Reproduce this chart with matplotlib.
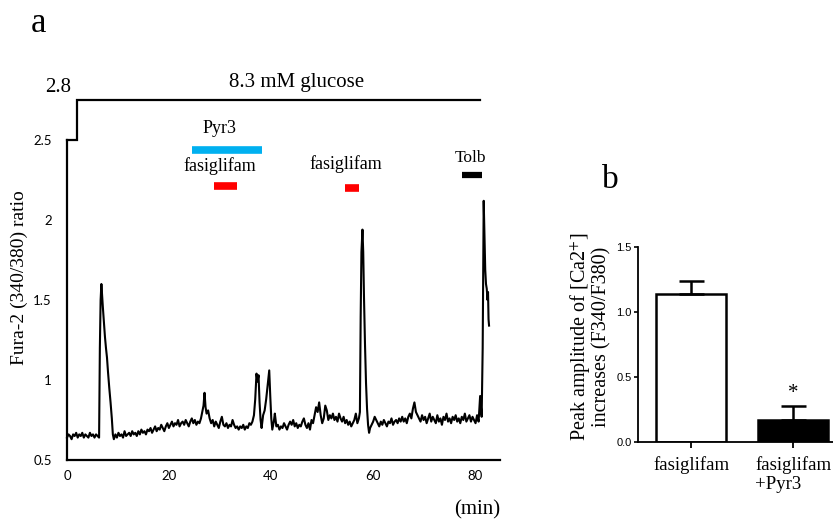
import matplotlib
matplotlib.use('Agg')
import matplotlib.pyplot as plt

plt.rcParams['mathtext.fontset'] = 'stix'

SERIF = ['Liberation Serif', 'DejaVu Serif']
SANS = ['Lato', 'DejaVu Sans']
NARROW = ['Liberation Sans Narrow', 'Liberation Sans', 'DejaVu Sans']

# ---------------- data: panel a (Fura-2 trace) ----------------
seg_a_t = [0.0, 0.3, 0.6, 0.9, 1.2, 1.5, 1.8, 2.1, 2.4, 2.7, 3.0, 3.3, 3.6, 3.9, 4.2, 4.5,
           4.8, 5.1, 5.4, 5.7, 6.0, 6.3]
seg_a_v = [.64, .66, .65, .63, .66, .65, .67, .64, .66, .65, .67, .64, .66, .65, .64, .67,
           .65, .66, .64, .66, .65, .64]

spike1_t = [6.45, 6.6, 6.75, 6.9, 7.05, 7.25, 7.45, 7.65, 7.85, 8.05, 8.3, 8.55, 8.8, 9.0, 9.2]
spike1_v = [1.20, 1.50, 1.60, 1.52, 1.45, 1.36, 1.27, 1.20, 1.14, 1.05, 0.95, 0.86, 0.76, 0.66, 0.63]

seg_c_t = [9.5, 9.8, 10.1, 10.4, 10.7, 11.0, 11.3, 11.6, 11.9, 12.2, 12.5, 12.8, 13.1, 13.4,
           13.7, 14.0, 14.3, 14.6, 14.9, 15.2, 15.5, 15.8, 16.1, 16.4, 16.7, 17.0, 17.3, 17.6,
           17.9, 18.2, 18.5, 18.8, 19.1, 19.4, 19.7, 20.0, 20.3, 20.6, 20.9, 21.2, 21.5, 21.8,
           22.1, 22.4, 22.7, 23.0, 23.3, 23.6, 23.9, 24.2, 24.5, 24.8, 25.1, 25.4, 25.7, 26.0]
seg_c_v = [.66, .64, .67, .65, .66, .64, .68, .65, .66, .67, .65, .68, .66, .67,
           .65, .68, .66, .69, .67, .68, .66, .69, .68, .70, .67, .69, .71, .68,
           .70, .69, .72, .70, .68, .71, .73, .70, .72, .74, .71, .73, .72, .75,
           .71, .73, .74, .72, .75, .73, .71, .74, .76, .73, .75, .72, .74, .73]

bump_t = [26.3, 26.6, 26.8, 27.0, 27.2, 27.4, 27.7, 28.0]
bump_v = [.76, .81, .84, .92, .83, .79, .81, .76]

seg_e_t = [28.3, 28.6, 28.9, 29.2, 29.5, 29.8, 30.1, 30.4, 30.7, 31.0, 31.3, 31.6, 31.9, 32.2,
           32.5, 32.8, 33.1, 33.4, 33.7, 34.0, 34.3, 34.6, 34.9, 35.2, 35.5, 35.8, 36.1, 36.4,
           36.7, 36.95]
seg_e_v = [.73, .75, .71, .74, .72, .70, .74, .77, .72, .71, .73, .70, .72, .71,
           .75, .72, .70, .71, .69, .71, .70, .72, .69, .71, .70, .73, .72, .74,
           .78, .88]

doublet_t = [37.2, 37.4, 37.6, 37.8, 38.0, 38.2, 38.5, 38.8, 39.1, 39.4, 39.7, 39.9, 40.1,
             40.3, 40.6, 40.8, 41.1]
doublet_v = [1.04, 0.99, 1.03, 0.86, 0.75, 0.70, 0.78, 0.81, 0.88, 0.97, 1.06, 0.90, 0.76,
             0.69, 0.74, 0.79, 0.71]

seg_g_t = [41.4, 41.7, 42.0, 42.3, 42.6, 42.9, 43.2, 43.5, 43.8, 44.1, 44.4, 44.7, 45.0, 45.3,
           45.6, 45.9, 46.2, 46.5, 46.8, 47.1, 47.4, 47.7, 48.0, 48.3, 48.6, 48.9, 49.2, 49.5,
           49.8, 50.1, 50.4, 50.7, 51.0, 51.3, 51.6, 51.9, 52.2, 52.5, 52.8, 53.1, 53.4, 53.7,
           54.0, 54.3, 54.6, 54.9, 55.2, 55.5, 55.8, 56.1, 56.4, 56.7, 57.0, 57.3]
seg_g_v = [.72, .69, .71, .70, .73, .71, .69, .72, .74, .72, .75, .71, .73, .70,
           .72, .71, .74, .76, .72, .70, .73, .69, .75, .73, .78, .83, .80, .86,
           .78, .73, .76, .84, .81, .75, .78, .76, .79, .75, .77, .74, .79, .76,
           .74, .77, .73, .75, .72, .74, .71, .73, .75, .79, .73, .76]

spike2_t = [57.5, 57.65, 57.8, 58.0, 58.15, 58.3, 58.5, 58.7, 58.9, 59.1, 59.3, 59.5]
spike2_v = [0.80, 1.40, 1.80, 1.94, 1.80, 1.52, 1.22, 0.98, 0.82, 0.72, 0.67, 0.70]

seg_i_t = [59.8, 60.1, 60.4, 60.7, 61.0, 61.3, 61.6, 61.9, 62.2, 62.5, 62.8, 63.1, 63.4, 63.7,
           64.0, 64.3, 64.6, 64.9, 65.2, 65.5, 65.8, 66.1, 66.4, 66.7, 67.0, 67.3, 67.6, 67.9,
           68.2, 68.5, 68.8, 69.1, 69.4, 69.7, 70.0, 70.3, 70.6, 70.9, 71.2, 71.5, 71.8, 72.1,
           72.4, 72.7, 73.0, 73.3, 73.6, 73.9, 74.2, 74.5, 74.8, 75.1, 75.4, 75.7, 76.0, 76.3,
           76.6, 76.9, 77.2, 77.5, 77.8, 78.1, 78.4, 78.7, 79.0, 79.3, 79.6, 79.9, 80.2, 80.5,
           80.8, 81.1, 81.4]
seg_i_v = [.72, .74, .77, .75, .73, .71, .74, .72, .75, .73,
           .71, .74, .73, .76, .72, .74, .75, .73, .76, .74,
           .77, .74, .76, .73, .77, .79, .76, .82, .86, .80,
           .78, .76, .74, .78, .75, .77, .73, .76, .79, .74,
           .77, .75, .73, .78, .74, .76, .72, .77, .75, .79,
           .74, .76, .73, .77, .75, .78, .74, .76, .73, .77,
           .75, .79, .74, .76, .78, .74, .77, .75, .73, .78,
           .74, .90, .77]

tolb_t = [81.6, 81.8, 81.95, 82.1, 82.25, 82.4, 82.55, 82.65, 82.75, 82.85]
tolb_v = [1.20, 2.12, 1.90, 1.69, 1.60, 1.57, 1.50, 1.55, 1.38, 1.34]

trace_t = (seg_a_t + spike1_t + seg_c_t + bump_t + seg_e_t + doublet_t + seg_g_t
           + spike2_t + seg_i_t + tolb_t)
trace_v = (seg_a_v + spike1_v + seg_c_v + bump_v + seg_e_v + doublet_v + seg_g_v
           + spike2_v + seg_i_v + tolb_v)

glucose_t = [0, 2, 2, 81]
glucose_v = [2.5, 2.5, 2.75, 2.75]

# treatment bars: (start, end, level)
pyr3 = (24.5, 38.2, 2.44)
fasi1 = (28.8, 33.3, 2.21)
fasi2 = (54.5, 57.3, 2.20)
tolb = (77.5, 81.4, 2.28)

yticks_a = [0.5, 1, 1.5, 2, 2.5]
yticklabels_a = ['0.5', '1', '1.5', '2', '2.5']
xticks_a = [0, 20, 40, 60, 80]

# ---------------- data: panel b ----------------
groups = ['fasiglifam', 'fasiglifam\n+Pyr3']
means = [1.14, 0.17]
sems = [0.10, 0.11]
yticks_b = [0.0, 0.5, 1.0, 1.5]
yticklabels_b = ['0.0', '0.5', '1.0', '1.5']

# ---------------- figure ----------------
W, H = 833, 520
fig = plt.figure(figsize=(W / 100, H / 100), dpi=100)


def box(l, t, r, b):
    return [l / W, 1 - b / H, (r - l) / W, (b - t) / H]


ax = fig.add_axes(box(67, 76, 500, 460))
ax.set_xlim(0, 85)
ax.set_ylim(0.5, 2.9)
for s in ['top', 'right']:
    ax.spines[s].set_visible(False)
for s in ['left', 'bottom']:
    ax.spines[s].set_linewidth(1.6)
    ax.spines[s].set_color('black')
ax.spines['left'].set_bounds(0.5, 2.5)
ax.set_yticks(yticks_a)
ax.set_yticklabels(yticklabels_a, family=SANS, fontsize=9.5)
ax.set_xticks(xticks_a)
ax.set_xticklabels([str(x) for x in xticks_a], family=SANS, fontsize=9.5)
ax.tick_params(axis='y', length=0, pad=11)
ax.tick_params(axis='x', length=0, pad=7)

ax.plot(trace_t, trace_v, color='black', lw=1.5, clip_on=False)
ax.plot(glucose_t, glucose_v, color='black', lw=1.6, clip_on=False, solid_joinstyle='miter')

ax.plot(pyr3[:2], [pyr3[2]] * 2, color='#00B0F0', lw=5.5, solid_capstyle='butt')
ax.plot(fasi1[:2], [fasi1[2]] * 2, color='#FF0000', lw=5.5, solid_capstyle='butt')
ax.plot(fasi2[:2], [fasi2[2]] * 2, color='#FF0000', lw=5.5, solid_capstyle='butt')
ax.plot(tolb[:2], [tolb[2]] * 2, color='black', lw=4.5, solid_capstyle='butt')

ax.text(30.0, 2.57, 'Pyr3', family=SERIF, fontsize=13, ha='center', va='center')
ax.text(30.0, 2.34, 'fasiglifam', family=SERIF, fontsize=13, ha='center', va='center')
ax.text(54.7, 2.35, 'fasiglifam', family=SERIF, fontsize=13, ha='center', va='center')
ax.text(79.2, 2.39, 'Tolb', family=SERIF, fontsize=12.5, ha='center', va='center')
ax.text(45.1, 2.86, '8.3 mM glucose', family=SERIF, fontsize=15, ha='center', va='center')
ax.text(-1.8, 2.83, '2.8', family=SERIF, fontsize=15, ha='center', va='center')

fig.text(477 / W, 1 - 510 / H, '(min)', family=SERIF, fontsize=15, ha='center', va='center')
fig.text(19 / W, 1 - 278 / H, 'Fura-2 (340/380) ratio', family=SERIF, fontsize=14,
         rotation=90, ha='center', va='center')
fig.text(38 / W, 1 - 23 / H, 'a', family=SERIF, fontsize=25, ha='center', va='center')
fig.text(610 / W, 1 - 180 / H, 'b', family=SERIF, fontsize=24, ha='center', va='center')

# panel b
bx = fig.add_axes(box(638, 247, 833, 442))
bx.set_xlim(-0.52, 1.39)
bx.set_ylim(0, 1.5)
for s in ['top', 'right']:
    bx.spines[s].set_visible(False)
for s in ['left', 'bottom']:
    bx.spines[s].set_linewidth(1.3)
bx.bar([0, 1], means, width=0.68, color=['white', 'black'], edgecolor='black',
       linewidth=1.8, zorder=2)
bx.errorbar([0, 1], means, yerr=[[0, 0], sems], fmt='none', ecolor='black',
            elinewidth=1.8, capsize=9, capthick=1.8, zorder=3)
bx.set_yticks(yticks_b)
bx.set_yticklabels(yticklabels_b, family=NARROW, fontsize=8)
bx.set_xticks([0, 1])
bx.set_xticklabels(groups, family=SERIF, fontsize=13.5, ha='center', multialignment='left')
bx.tick_params(axis='y', length=3, width=1.2, pad=1.5)
bx.tick_params(axis='x', length=4, width=1.3, pad=6)
bx.text(1, 0.37, '*', family=SERIF, fontsize=15, ha='center', va='center')

fig.text(590 / W, 1 - 337 / H, 'Peak amplitude of [Ca2$^{+}$]\nincreases (F340/F380)',
         family=SERIF, fontsize=14.5, rotation=90, ha='center', va='center',
         multialignment='center', linespacing=1.0)

fig.savefig('out.png', dpi=100)
